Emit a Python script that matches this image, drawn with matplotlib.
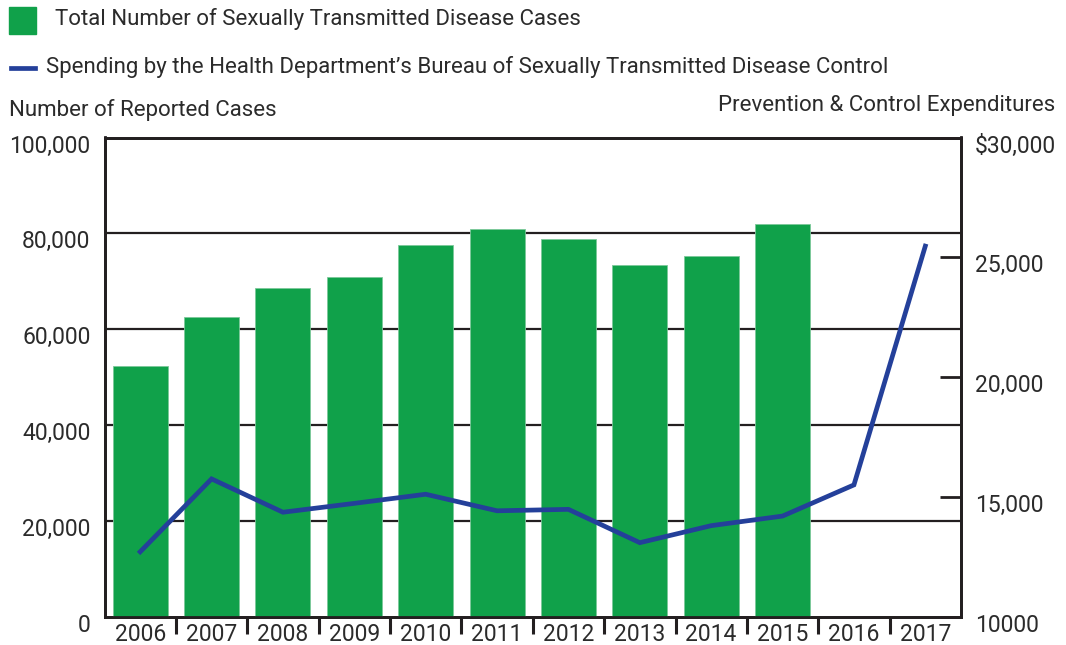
import matplotlib
matplotlib.use("Agg")
import matplotlib.pyplot as plt
from matplotlib.transforms import ScaledTranslation
from matplotlib.patches import Rectangle
from matplotlib.lines import Line2D

years = ["2006", "2007", "2008", "2009", "2010", "2011", "2012", "2013", "2014", "2015", "2016", "2017"]
cases = [52350, 62560, 68610, 70900, 77500, 80850, 78770, 73350, 75290, 81960]
spending = [12720, 15760, 14370, 14740, 15120, 14430, 14490, 13100, 13810, 14210, 15510, 25470]
left_ticks = [0, 20000, 40000, 60000, 80000, 100000]
left_labels = ["0", "20,000", "40,000", "60,000", "80,000", "100,000"]
right_ticks = [10000, 15000, 20000, 25000, 30000]
right_labels = ["10000", "15,000", "20,000", "25,000", "$30,000"]

GREEN = "#10a14a"
BLUE = "#24409a"
INK = "#231f20"
TXT = "#2b2b2b"

plt.rcParams["font.family"] = ["Roboto", "DejaVu Sans"]

W, H = 1066, 645
fig = plt.figure(figsize=(W / 100, H / 100), dpi=100)
L, R, T, B = 104.5, 961, 137.5, 617
ax = fig.add_axes([L / W, 1 - B / H, (R - L) / W, (B - T) / H])
ax2 = ax.twinx()

x = list(range(len(years)))
ax.bar(x[:len(cases)], cases, width=0.77, color=GREEN, edgecolor="#7cc99a",
       linewidth=0.6, zorder=3)
for v in left_ticks[1:-1]:
    ax.axhline(v, color=INK, lw=1.6, zorder=2)

ax.set_xlim(-0.5, len(years) - 0.5)
ax.set_ylim(0, 100000)
ax2.set_ylim(10000, 30000)

ax2.plot(x, spending, color=BLUE, lw=3.4, solid_joinstyle="miter", zorder=5)

for a in (ax, ax2):
    for s in a.spines.values():
        s.set_color(INK)
        s.set_linewidth(2.0)

TICK_FS = 16.5

# x axis
ax.set_xticks(x)
ax.set_xticklabels(years, fontsize=TICK_FS, color=TXT)
ax.tick_params(axis="x", which="major", length=0, pad=4)
ax.set_xticks([i + 0.5 for i in x[:-1]], minor=True)
ax.tick_params(axis="x", which="minor", direction="out", length=12, width=2.2, color=INK)

# left y axis
ax.set_yticks(left_ticks)
ax.set_yticklabels(left_labels, fontsize=TICK_FS, color=TXT)
ax.tick_params(axis="y", length=0, pad=10)

# right y axis
ax2.set_yticks(right_ticks)
ax2.set_yticklabels(right_labels, fontsize=TICK_FS, color=TXT)
ax2.tick_params(axis="y", direction="in", length=15, width=2.0, color=INK, pad=10)

off = ScaledTranslation(0, -6 / 100, fig.dpi_scale_trans)
for lab in ax.get_yticklabels() + ax2.get_yticklabels():
    lab.set_transform(lab.get_transform() + off)

ax.set_zorder(1)
ax2.set_zorder(2)
ax2.patch.set_visible(False)

# legend / titles
TXT_FS = 16
fig.patches.append(Rectangle((9 / W, 1 - 34 / H), 27 / W, 27 / H,
                             transform=fig.transFigure, color=GREEN))
fig.text(55 / W, 1 - 19 / H, "Total Number of Sexually Transmitted Disease Cases",
         fontsize=TXT_FS, color=TXT, va="center", ha="left")
fig.lines.append(Line2D([11 / W, 35 / W], [1 - 68 / H, 1 - 68 / H],
                        transform=fig.transFigure, color=BLUE, lw=3.4))
fig.text(46 / W, 1 - 67 / H,
         "Spending by the Health Department\u2019s Bureau of Sexually Transmitted Disease Control",
         fontsize=TXT_FS, color=TXT, va="center", ha="left")
fig.text(9 / W, 1 - 110 / H, "Number of Reported Cases", fontsize=TXT_FS, color=TXT,
         va="center", ha="left")
fig.text(1055 / W, 1 - 106 / H, "Prevention & Control Expenditures", fontsize=TXT_FS,
         color=TXT, va="center", ha="right")

fig.savefig("out.png", dpi=100)
